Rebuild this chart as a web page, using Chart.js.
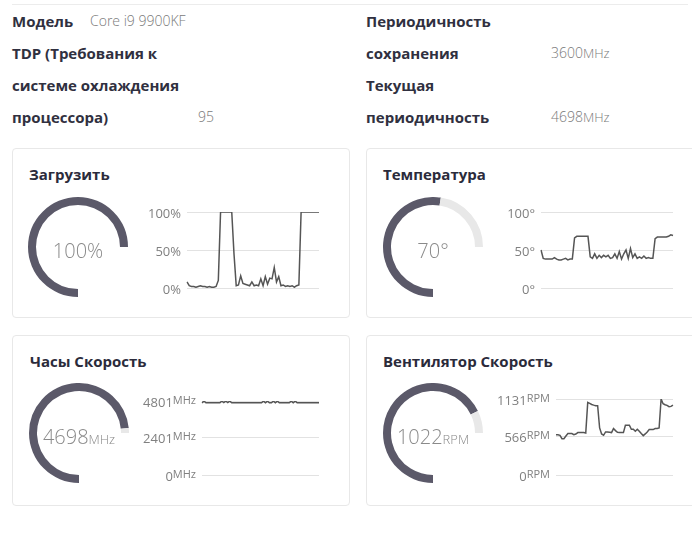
<!DOCTYPE html>
<html>
<head>
<meta charset="utf-8">
<script src="https://cdn.jsdelivr.net/npm/chart.js@4.4.1/dist/chart.umd.min.js"></script>
<style>
  html, body { margin: 0; padding: 0; background: #fff; }
  body { position: relative; width: 692px; height: 539px; overflow: hidden; font-family: "Open Sans", sans-serif; }
  .topline { position: absolute; left: 12px; top: 4px; width: 676px; height: 1px; background: #ececec; }
  .lbl { position: absolute; font-weight: 700; font-size: 15px; color: #303040; line-height: 32px; white-space: nowrap; }
  .val { position: absolute; font-weight: 300; font-size: 14px; color: #7a7a7a; line-height: 32px; white-space: nowrap; }
  .val small { font-size: 13px; }
  .card { position: absolute; border: 1px solid #e8e8e8; border-radius: 4px; box-sizing: border-box; }
  .title { position: absolute; font-weight: 700; font-size: 15px; color: #2b2b3b; white-space: nowrap; line-height: 20px; }
  canvas { position: absolute; }
</style>
</head>
<body>
<div class="topline"></div>

<div class="lbl" style="left:12px;top:5px">Модель</div>
<div class="val" style="left:90px;top:5px">Core i9 9900KF</div>
<div class="lbl" style="left:12px;top:37px">TDP (Требования к</div>
<div class="lbl" style="left:12px;top:69px">системе охлаждения</div>
<div class="lbl" style="left:12px;top:101px">процессора)</div>
<div class="val" style="left:198px;top:101px">95</div>

<div class="lbl" style="left:366px;top:5px">Периодичность</div>
<div class="lbl" style="left:366px;top:37px">сохранения</div>
<div class="val" style="left:551px;top:37px">3600<small>MHz</small></div>
<div class="lbl" style="left:366px;top:69px">Текущая</div>
<div class="lbl" style="left:366px;top:101px">периодичность</div>
<div class="val" style="left:551px;top:101px">4698<small>MHz</small></div>

<div class="card" style="left:12px;top:148px;width:338px;height:170px"></div>
<div class="card" style="left:366px;top:148px;width:340px;height:170px"></div>
<div class="card" style="left:12px;top:335px;width:338px;height:171px"></div>
<div class="card" style="left:366px;top:335px;width:340px;height:171px"></div>

<div class="title" style="left:29px;top:164px">Загрузить</div>
<div class="title" style="left:383px;top:164px">Температура</div>
<div class="title" style="left:30px;top:351px">Часы Скорость</div>
<div class="title" style="left:383px;top:351px">Вентилятор Скорость</div>

<canvas id="gLoad"  width="100" height="100" style="left:28px;top:197px"></canvas>
<canvas id="gTemp"  width="100" height="100" style="left:383px;top:197px"></canvas>
<canvas id="gClock" width="100" height="100" style="left:29px;top:383px"></canvas>
<canvas id="gFan"   width="100" height="100" style="left:383px;top:383px"></canvas>

<canvas id="lLoad"  width="185" height="100" style="left:140px;top:200px"></canvas>
<canvas id="lTemp"  width="185" height="100" style="left:495px;top:200px"></canvas>
<canvas id="lClock" width="185" height="95"  style="left:140px;top:390px"></canvas>
<canvas id="lFan"   width="185" height="97"  style="left:495px;top:388px"></canvas>

<script>
// ── current values / max ─────────────────────────────────────────────
const LOAD_NOW = 100,  LOAD_MAX = 100;
const TEMP_NOW = 70,   TEMP_MAX = 100;
const CLOCK_NOW = 4698, CLOCK_MAX = 4801;
const FAN_NOW = 1022,  FAN_MAX = 1131;

// ── tick labels ─────────────────────────────────────────────────────
const LOAD_TICKS  = [0, 50, 100];
const TEMP_TICKS  = [0, 50, 100];
const CLOCK_TICKS = [0, 2401, 4801];
const FAN_TICKS   = [0, 566, 1131];

// ── history series (60 samples) ─────────────────────────────────────
const LOAD_VALUES = [
  8, 3, 2, 2, 1, 2, 3, 2, 2, 1, 2, 1, 1, 2, 10,
  100, 100, 100, 100, 100, 100, 45, 3, 4, 16, 6, 5, 4, 3, 8,
  3, 4, 3, 12, 3, 15, 5, 13, 12, 27, 8, 15, 3, 4, 2,
  3, 2, 3, 1, 3, 4, 100, 100, 100, 100, 100, 100, 100, 100, 100
];
const TEMP_VALUES = [
  50, 39, 38, 38, 38, 38, 40, 38, 37, 37, 38, 39, 37, 38, 38,
  66, 68, 68, 68, 68, 68, 68, 41, 39, 45, 39, 43, 40, 43, 41,
  43, 39, 40, 45, 39, 48, 38, 45, 50, 39, 52, 40, 45, 39, 41,
  39, 42, 39, 40, 39, 39, 65, 67, 67, 67, 67, 67, 68, 70, 69
];
const CLOCK_VALUES = [
  4680, 4795, 4680, 4680, 4680, 4680, 4680, 4680, 4680, 4680, 4795, 4700, 4795, 4700, 4795,
  4680, 4680, 4680, 4680, 4680, 4680, 4680, 4680, 4680, 4680, 4680, 4680, 4680, 4680, 4680,
  4680, 4795, 4680, 4795, 4680, 4680, 4795, 4680, 4795, 4680, 4680, 4680, 4680, 4680, 4680,
  4795, 4680, 4795, 4680, 4680, 4680, 4680, 4680, 4680, 4680, 4680, 4680, 4680, 4680, 4680
];
const FAN_VALUES = [
  600, 600, 590, 541, 541, 580, 616, 616, 616, 600, 610, 631, 631, 631, 631,
  625, 1080, 1066, 1050, 1040, 1031, 1031, 700, 611, 591, 641, 641, 636, 631, 691,
  661, 636, 631, 631, 631, 741, 741, 741, 681, 681, 651, 681, 651, 616, 586,
  611, 641, 676, 676, 676, 691, 691, 700, 1131, 1061, 1046, 1036, 1016, 1021, 1041
];

const DARK = "#5b5969";
const TRACK = "#e8e8e8";
const LINE = "#555555";

// ── gauge (270° doughnut) ───────────────────────────────────────────
function makeGauge(id, value, max, suffix, unit) {
  new Chart(document.getElementById(id), {
    type: "doughnut",
    data: {
      datasets: [{
        data: [value, Math.max(max - value, 0)],
        backgroundColor: [DARK, TRACK],
        borderWidth: 0,
      }],
    },
    options: {
      responsive: false,
      animation: false,
      rotation: 180,
      circumference: 270,
      cutout: "84%",
      events: [],
      plugins: { legend: { display: false }, tooltip: { enabled: false } },
    },
    plugins: [{
      id: "centerText",
      afterDraw(chart) {
        const { ctx, chartArea } = chart;
        const cx = (chartArea.left + chartArea.right) / 2;
        const cy = (chartArea.top + chartArea.bottom) / 2 + 4;
        const num = value + suffix;
        const bigFont = "300 20px 'Open Sans', sans-serif";
        const smallFont = "300 13px 'Open Sans', sans-serif";
        ctx.save();
        ctx.fillStyle = "#8a8a8a";
        ctx.textBaseline = "alphabetic";
        ctx.font = bigFont;
        const w1 = ctx.measureText(num).width;
        ctx.font = smallFont;
        const w2 = unit ? ctx.measureText(unit).width : 0;
        const x0 = cx - (w1 + w2) / 2;
        ctx.textAlign = "left";
        ctx.font = bigFont;
        ctx.fillText(num, x0, cy + 7);
        if (unit) {
          ctx.font = smallFont;
          ctx.fillText(unit, x0 + w1, cy + 7);
        }
        ctx.restore();
      },
    }],
  });
}

// ── history line ────────────────────────────────────────────────────
function makeLine(id, values, ticks, suffix, unit, pad) {
  new Chart(document.getElementById(id), {
    type: "line",
    data: {
      labels: values.map((_, i) => i),
      datasets: [{
        data: values,
        borderColor: LINE,
        borderWidth: 1.5,
        pointRadius: 0,
        tension: 0,
        fill: false,
      }],
    },
    options: {
      responsive: false,
      animation: false,
      events: [],
      layout: { padding: pad },
      scales: {
        x: { display: false },
        y: {
          min: ticks[0],
          max: ticks[ticks.length - 1],
          afterBuildTicks: (axis) => { axis.ticks = ticks.map((v) => ({ value: v })); },
          ticks: { display: false },
          grid: { color: "#e2e2e2", lineWidth: 1, drawTicks: false },
          border: { display: false },
        },
      },
      plugins: { legend: { display: false }, tooltip: { enabled: false } },
    },
    plugins: [{
      id: "tickLabels",
      afterDraw(chart) {
        const { ctx, chartArea } = chart;
        const scale = chart.scales.y;
        ctx.save();
        ctx.fillStyle = "#808080";
        ctx.textAlign = "right";
        ctx.textBaseline = "alphabetic";
        ticks.forEach((v) => {
          const y = scale.getPixelForValue(v) + 5.5;
          let x = chartArea.left - 6;
          if (unit) {
            ctx.font = "11px 'Open Sans', sans-serif";
            ctx.fillText(unit, x, y - 3);
            x -= ctx.measureText(unit).width;
          }
          ctx.font = "13px 'Open Sans', sans-serif";
          ctx.fillText(v + suffix, x, y);
        });
        ctx.restore();
      },
    }],
  });
}

makeGauge("gLoad", LOAD_NOW, LOAD_MAX, "%", "");
makeGauge("gTemp", TEMP_NOW, TEMP_MAX, "°", "");
makeGauge("gClock", CLOCK_NOW, CLOCK_MAX, "", "MHz");
makeGauge("gFan", FAN_NOW, FAN_MAX, "", "RPM");

makeLine("lLoad", LOAD_VALUES, LOAD_TICKS, "%", "", { left: 47, top: 12, right: 6, bottom: 12 });
makeLine("lTemp", TEMP_VALUES, TEMP_TICKS, "°", "", { left: 46, top: 12, right: 7, bottom: 12 });
makeLine("lClock", CLOCK_VALUES, CLOCK_TICKS, "", "MHz", { left: 62, top: 11, right: 6, bottom: 10 });
makeLine("lFan", FAN_VALUES, FAN_TICKS, "", "RPM", { left: 61, top: 11, right: 7, bottom: 10 });
</script>
</body>
</html>
